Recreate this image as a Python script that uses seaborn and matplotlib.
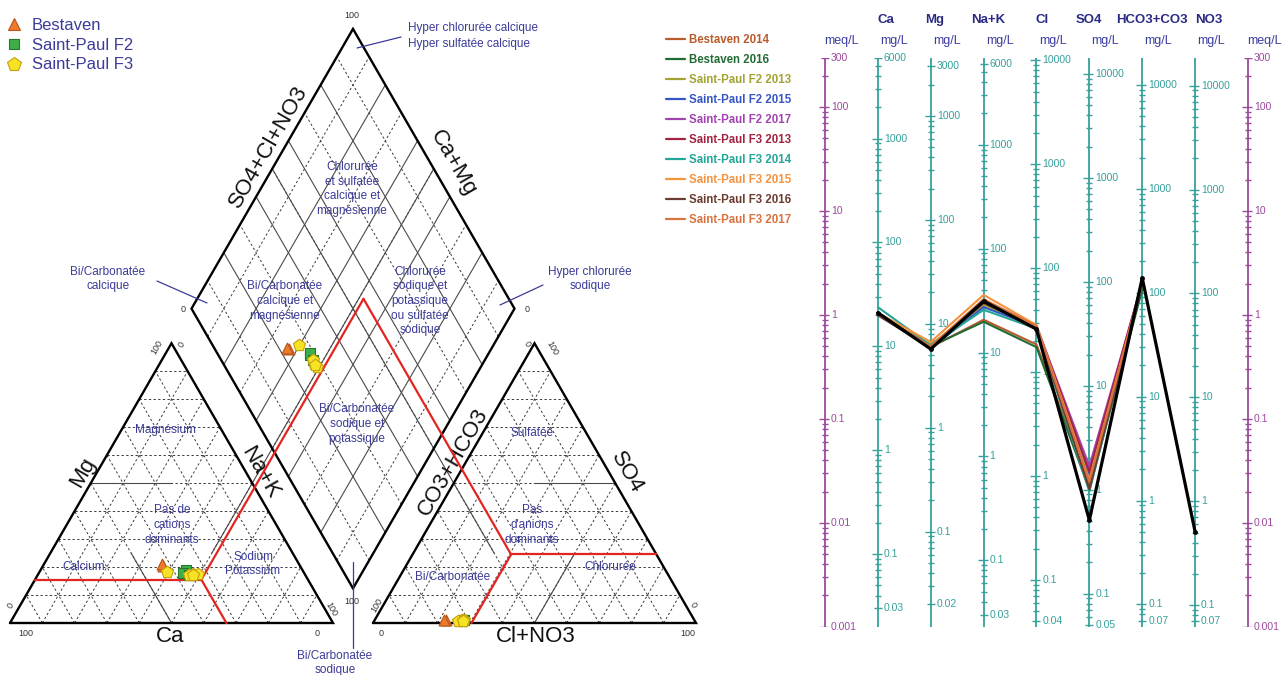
import numpy as np
import pandas as pd
import matplotlib
matplotlib.use("Agg")
import matplotlib.pyplot as plt
import matplotlib.transforms as mtransforms
from matplotlib.collections import LineCollection
from matplotlib.lines import Line2D
import seaborn as sns

sns.set_theme(style="white")
plt.rcParams["font.family"] = ["Liberation Sans", "DejaVu Sans"]

# ------------------------------------------------------------------
# Analyses (meq/L)
# ------------------------------------------------------------------
samples = ["Bestaven 2014", "Bestaven 2016", "Saint-Paul F2 2013",
           "Saint-Paul F2 2015", "Saint-Paul F2 2017", "Saint-Paul F3 2013",
           "Saint-Paul F3 2014", "Saint-Paul F3 2015", "Saint-Paul F3 2016",
           "Saint-Paul F3 2017"]
sample_sites = ["Bestaven", "Bestaven", "Saint-Paul F2", "Saint-Paul F2",
                "Saint-Paul F2", "Saint-Paul F3", "Saint-Paul F3",
                "Saint-Paul F3", "Saint-Paul F3", "Saint-Paul F3"]
sample_colors = ["#b85a2c", "#236b35", "#a3a232", "#3556c4", "#a244b0",
                 "#a3223f", "#23a597", "#f5923e", "#6b3c30", "#d9723f"]

ca_meq = [1.02, 1.00, 1.00, 1.00, 1.02, 1.00, 1.19, 1.05, 1.00, 1.02]
mg_meq = [0.49, 0.50, 0.52, 0.48, 0.49, 0.50, 0.51, 0.55, 0.48, 0.50]
nak_meq = [0.90, 0.86, 1.25, 1.19, 1.33, 1.38, 1.12, 1.56, 1.30, 1.42]
cl_meq = [0.52, 0.49, 0.77, 0.77, 0.78, 0.79, 0.74, 0.80, 0.77, 0.78]
so4_meq = [0.023, 0.021, 0.027, 0.028, 0.035, 0.031, 0.020, 0.026, 0.021, 0.025]
hco3_meq = [1.82, 1.76, 2.00, 1.98, 2.05, 2.10, 2.08, 2.06, 2.00, 2.04]
no3_meq = [0.0] * 10

# selected profile (drawn in black, Ca .. NO3)
selected_meq = [1.05, 0.47, 1.36, 0.73, 0.0106, 2.27, 0.0082]

ions = ["Ca", "Mg", "Na+K", "Cl", "SO4", "HCO3+CO3", "NO3"]
eq_weights = [20.04, 12.15, 23.0, 35.45, 48.03, 61.02, 62.0]
mg_labels = [[6000, 1000, 100, 10, 1, 0.1, 0.03],
             [3000, 1000, 100, 10, 1, 0.1, 0.02],
             [6000, 1000, 100, 10, 1, 0.1, 0.03],
             [10000, 1000, 100, 10, 1, 0.1, 0.04],
             [10000, 1000, 100, 10, 1, 0.1, 0.05],
             [10000, 1000, 100, 10, 1, 0.1, 0.07],
             [10000, 1000, 100, 10, 1, 0.1, 0.07]]
meq_labels = [300, 100, 10, 1, 0.1, 0.01, 0.001]

site_names = ["Bestaven", "Saint-Paul F2", "Saint-Paul F3"]
site_markers = ["^", "s", "p"]
site_fill = ["#ee7a2c", "#3fae49", "#f7e326"]
site_edge = ["#b4561b", "#23792e", "#c4a20c"]
site_sizes = [62, 42, 82]

NAVY = "#3b3b98"
TEAL = "#36a09b"
PURPLE = "#9c4a9c"

fig = plt.figure(figsize=(12.82, 6.75), dpi=100)

# ------------------------------------------------------------------
# Piper diagram (axes units = pixels)
# ------------------------------------------------------------------
axp = fig.add_axes([0, 0, 700 / 1282, 1])
axp.set_xlim(0, 700)
axp.set_ylim(675, 0)
axp.axis("off")

S = 323.0
H = S * np.sqrt(3) / 2
X0, Y0 = 10.0, 623.0
GAP = 40.0
BX = X0 + S + GAP / 2
BY = Y0 - (GAP / 2) / (S / 2) * H


def cat_xy(ca, mg, nak):
    return X0 + nak * S + mg * S / 2, Y0 - mg * H


def an_xy(hco3, so4, cl):
    return X0 + S + GAP + cl * S + so4 * S / 2, Y0 - so4 * H


def dia_xy(u, a):
    return BX - u * S / 2 + a * S / 2, BY - (u + a) * H


def seg(p, q, **kw):
    axp.plot([p[0], q[0]], [p[1], q[1]], **kw)


dash = dict(color="#3a3a3a", lw=0.7, ls=(0, (2.4, 2.4)), zorder=1)
solid = dict(color="#4a4a4a", lw=0.8, zorder=1)
for k in range(1, 10):
    f = k / 10
    seg(cat_xy(1 - f, f, 0), cat_xy(0, f, 1 - f), **dash)
    seg(cat_xy(1 - f, 0, f), cat_xy(0, 1 - f, f), **dash)
    seg(cat_xy(f, 0, 1 - f), cat_xy(f, 1 - f, 0), **dash)
    seg(an_xy(1 - f, f, 0), an_xy(0, f, 1 - f), **dash)
    seg(an_xy(1 - f, 0, f), an_xy(0, 1 - f, f), **dash)
    seg(an_xy(f, 0, 1 - f), an_xy(f, 1 - f, 0), **dash)
    st = solid if k % 2 == 0 else dash
    seg(dia_xy(f, 0), dia_xy(f, 1), **st)
    seg(dia_xy(0, f), dia_xy(1, f), **st)

# 50 % boundaries
seg(cat_xy(.5, .5, 0), cat_xy(.25, .5, .25), **solid)
seg(cat_xy(.5, 0, .5), cat_xy(.5, .25, .25), **solid)
seg(cat_xy(.25, .25, .5), dia_xy(.5, 1), **solid)
seg(an_xy(0, .5, .5), an_xy(.25, .5, .25), **solid)
seg(an_xy(.5, 0, .5), an_xy(.25, .25, .5), **solid)
seg(an_xy(.5, .25, .25), dia_xy(1, .5), **solid)

# outlines
frame = dict(color="black", lw=1.7, zorder=3, solid_joinstyle="miter")
for pts in ([cat_xy(1, 0, 0), cat_xy(0, 0, 1), cat_xy(0, 1, 0)],
            [an_xy(1, 0, 0), an_xy(0, 0, 1), an_xy(0, 1, 0)],
            [dia_xy(0, 0), dia_xy(1, 0), dia_xy(1, 1), dia_xy(0, 1)]):
    pts = pts + [pts[0]]
    axp.plot([p[0] for p in pts], [p[1] for p in pts], **frame)

# red selection polygon
red = dict(color="#e3241f", lw=1.6, zorder=4)
mg_r, ca_r = 0.155, 0.33
nak_r = 1 - mg_r - ca_r
so4_r, cl_r = 0.245, 0.305
hco3_r = 1 - so4_r - cl_r
j1 = cat_xy(ca_r, mg_r, nak_r)
j2 = an_xy(hco3_r, so4_r, cl_r)
apex = dia_xy(1 - nak_r, 1 - hco3_r)
seg(cat_xy(1 - mg_r, mg_r, 0), j1, **red)
seg(j1, cat_xy(ca_r, 0, 1 - ca_r), **red)
seg(j1, apex, **red)
seg(j2, an_xy(0, so4_r, 1 - so4_r), **red)
seg(j2, an_xy(1 - cl_r, 0, cl_r), **red)
seg(j2, apex, **red)

# sample positions
cat_tot = np.array(ca_meq) + np.array(mg_meq) + np.array(nak_meq)
an_tot = np.array(hco3_meq) + np.array(so4_meq) + np.array(cl_meq) + np.array(no3_meq)
f_ca = np.array(ca_meq) / cat_tot
f_mg = np.array(mg_meq) / cat_tot
f_nak = np.array(nak_meq) / cat_tot
f_hco3 = np.array(hco3_meq) / an_tot
f_so4 = np.array(so4_meq) / an_tot
f_cl = (np.array(cl_meq) + np.array(no3_meq)) / an_tot
cx, cy = cat_xy(f_ca, f_mg, f_nak)
ax_, ay_ = an_xy(f_hco3, f_so4, f_cl)
dx, dy = dia_xy(f_ca + f_mg, f_so4 + f_cl)
piper = pd.DataFrame({"site": sample_sites, "cx": cx, "cy": cy, "ax": ax_,
                      "ay": ay_, "dx": dx, "dy": dy})

for site, mk, fc, ec, sz in zip(site_names, site_markers, site_fill,
                                site_edge, site_sizes):
    sub = piper[piper["site"] == site]
    for xc, yc in (("cx", "cy"), ("ax", "ay"), ("dx", "dy")):
        sns.scatterplot(data=sub, x=xc, y=yc, marker=mk, color=fc,
                        edgecolor=ec, linewidth=0.8, s=sz, ax=axp,
                        zorder=6, legend=False)

# axis titles
big = dict(fontsize=16, color="#111111", ha="center", va="center")
axp.text(170, 637, "Ca", **big)
axp.text(83, 472, "Mg", rotation=60, **big)
axp.text(260, 473, "Na+K", rotation=-60, **big)
axp.text(536, 637, "Cl+NO3", **big)
axp.text(453, 462, "CO3+HCO3", rotation=60, **big)
axp.text(627, 473, "SO4", rotation=-60, **big)
axp.text(269, 147, "SO4+Cl+NO3", rotation=60, **big)
axp.text(453, 163, "Ca+Mg", rotation=-60, **big)

# scale ends
small = dict(fontsize=6.5, color="#333333", ha="center", va="center")
for txt, x, y, rot in [("100", 352, 16, 0), ("0", 183, 309, 0),
                       ("0", 527, 309, 0), ("100", 352, 601, 0),
                       ("100", 26, 633, 0), ("0", 317, 633, 0),
                       ("100", 157, 347, 60), ("0", 182, 345, 60),
                       ("0", 11, 606, 60), ("100", 331, 609, -60),
                       ("0", 381, 633, 0), ("100", 688, 633, 0),
                       ("100", 377, 605, 60), ("0", 527, 344, -60),
                       ("100", 552, 348, -60), ("0", 693, 605, -60)]:
    axp.text(x, y, txt, rotation=rot, **small)

# facies names
reg = dict(fontsize=8.5, color=NAVY, ha="center", va="center",
           linespacing=1.3, zorder=7)
for txt, x, y in [("Chlorurée\net sulfatée\ncalcique et\nmagnésienne", 352, 189),
                  ("Bi/Carbonatée\ncalcique et\nmagnésienne", 285, 301),
                  ("Chlorurée\nsodique et\npotassique\nou sulfatée\nsodique", 420, 301),
                  ("Bi/Carbonatée\nsodique et\npotassique", 357, 424),
                  ("Magnésium", 166, 430),
                  ("Pas de\ncations\ndominants", 172, 525),
                  ("Calcium", 84, 567),
                  ("Sodium\nPotassium", 253, 564),
                  ("Sulfatée", 532, 433),
                  ("Pas\nd'anions\ndominants", 532, 525),
                  ("Bi/Carbonatée", 453, 577),
                  ("Chlorurée", 610, 567),
                  ("Bi/Carbonatée\ncalcique", 108, 279),
                  ("Hyper chlorurée\nsodique", 590, 279),
                  ("Bi/Carbonatée\nsodique", 335, 663)]:
    axp.text(x, y, txt, **reg)
axp.text(408, 36, "Hyper chlorurée calcique\nHyper sulfatée calcique",
         fontsize=8.5, color=NAVY, ha="left", va="center", linespacing=1.35)

lead = dict(color=NAVY, lw=0.9, zorder=7)
seg((357, 48), (401, 37), **lead)
seg((157, 281), (207, 303), **lead)
seg((543, 285), (500, 305), **lead)
seg((BX, 562), (BX, 648), **lead)

axp.set_xlim(0, 700)
axp.set_ylim(675, 0)

site_handles = [Line2D([], [], ls="none", marker=mk, ms=ms, mfc=fc, mec=ec,
                       mew=0.8)
                for mk, fc, ec, ms in zip(site_markers, site_fill, site_edge,
                                          [8, 7, 10])]
fig.legend(site_handles, site_names, loc="upper left",
           bbox_to_anchor=(6 / 1282, 1 - 18 / 675), frameon=False,
           fontsize=12, labelcolor=NAVY, handletextpad=0.55,
           labelspacing=0.28, borderpad=0, borderaxespad=0, handlelength=1.0)

# ------------------------------------------------------------------
# Schoeller diagram
# ------------------------------------------------------------------
PX = 52.875                      # pixels between adjacent axes
top_px, bot_px = 57.6, 626.7
axs = fig.add_axes([777.4 / 1282, (675 - bot_px) / 675,
                    (1279.7 - 777.4) / 1282, (bot_px - top_px) / 675])
axs.set_yscale("log")
axs.set_xlim(-0.9, 8.6)
axs.set_ylim(0.001, 300)
axs.axis("off")

LO, HI = 0.001, 300.0


def draw_axis(i, factor, labels, color):
    axs.plot([i, i], [LO, HI], color=color, lw=1.3, zorder=2,
             solid_capstyle="butt")
    lo, hi = LO * factor, HI * factor
    segs = []
    for e in range(int(np.floor(np.log10(lo))), int(np.ceil(np.log10(hi))) + 1):
        for m in range(1, 10):
            v = m * 10.0 ** e
            if v < lo * 0.999 or v > hi * 1.001:
                continue
            y = v / factor
            labelled = any(np.isclose(v, lab) for lab in labels)
            if m == 1:
                l, r = 6, 4
            elif labelled:
                l, r = 4, 4
            else:
                l, r = 3, 3
            segs.append([(i - l / PX, y), (i + r / PX, y)])
    axs.add_collection(LineCollection(segs, colors=color, lw=1.0, zorder=2))
    for lab in labels:
        axs.text(i + 6 / PX, lab / factor, f"{lab:g}", fontsize=7.5,
                 color=color, ha="left", va="center")


draw_axis(0, 1.0, meq_labels, PURPLE)
draw_axis(8, 1.0, meq_labels, PURPLE)
for i, (w, labs) in enumerate(zip(eq_weights, mg_labels), start=1):
    draw_axis(i, w, labs, TEAL)

fig_y = mtransforms.blended_transform_factory(axs.transData, fig.transFigure)
header_dx = [8, 4, 5, 6, 0, 10, 14]
for i, (name, dxp) in enumerate(zip(ions, header_dx), start=1):
    axs.text(i + dxp / PX, 1 - 20 / 675, name, transform=fig_y, fontsize=9.5,
             fontweight="bold", color="#2b2b86", ha="center", va="center")
for i in range(9):
    unit = "meq/L" if i in (0, 8) else "mg/L"
    axs.text(i + 16 / PX, 1 - 41 / 675, unit, transform=fig_y, fontsize=9,
             color="#3c3ca0", ha="center", va="center")

values = np.column_stack([ca_meq, mg_meq, nak_meq, cl_meq, so4_meq, hco3_meq])
profiles = pd.DataFrame({
    "sample": np.repeat(samples, values.shape[1]),
    "pos": np.tile(np.arange(1, values.shape[1] + 1), len(samples)),
    "meq": values.ravel(),
})
sns.lineplot(data=profiles, x="pos", y="meq", hue="sample", hue_order=samples,
             palette=dict(zip(samples, sample_colors)), estimator=None,
             sort=False, lw=1.5, ax=axs, zorder=4, legend=False)

selected = pd.DataFrame({"pos": np.arange(1, len(selected_meq) + 1),
                         "meq": selected_meq})
sns.lineplot(data=selected, x="pos", y="meq", color="black", lw=2.3,
             marker="o", markersize=3.5, markeredgewidth=0, estimator=None,
             sort=False, ax=axs, zorder=6, legend=False)

axs.set_xlim(-0.9, 8.6)
axs.set_ylim(0.001, 300)
axs.axis("off")

line_handles = [Line2D([], [], color=c, lw=1.6) for c in sample_colors]
fig.legend(line_handles, samples, loc="upper left",
           bbox_to_anchor=(666 / 1282, 1 - 34 / 675), frameon=False,
           prop=dict(weight="bold", size=8.3), labelcolor="linecolor",
           handlelength=1.65, handletextpad=0.35, labelspacing=0.69,
           borderpad=0, borderaxespad=0)

fig.savefig("out.png", dpi=100)
